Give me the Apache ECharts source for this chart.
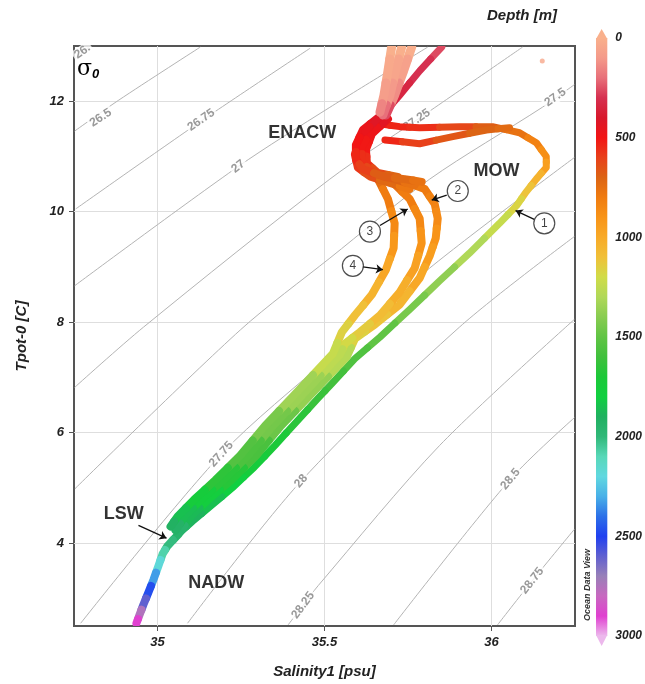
<!DOCTYPE html>
<html>
<head>
<meta charset="utf-8">
<script src="https://cdn.jsdelivr.net/npm/echarts@6/dist/echarts.min.js"></script>
<style>
  html, body { margin: 0; padding: 0; background: #fff; }
  #chart { width: 645px; height: 684px; }
</style>
</head>
<body>
<div id="chart"></div>
<script>
  /* axis ticks */
  var salinityTicks = [35, 35.5, 36];
  var tempTicks = [4, 6, 8, 10, 12];

  /* depth colour scale 0..3000 m, one colour every 100 m */
  var depthColors = ['#f9b08c', '#f49a8a', '#e8707a', '#d63050', '#d8182c', '#f21414', '#e8401a',
    '#dc6414', '#f07c10', '#f89418', '#f8aa28', '#f0c038', '#d0dc48', '#b0d858', '#88cc50',
    '#60c444', '#40c03c', '#1cc838', '#10d040', '#20b060', '#30b878', '#58d8b8', '#60d8e0',
    '#48b0e8', '#2c70e8', '#2040f0', '#6060d0', '#9880b8', '#c868c0', '#e040d0', '#ecb8ec'];

  /* isopycnals sigma-0, [salinity, temperature] */
  var sigma2625 = [[34.752, 12.77], [34.794, 12.98]];
  var sigma265 = [[34.752, 11.46], [34.884, 12.02], [35.128, 12.98]];
  var sigma2675 = [[34.755, 10.05], [35.128, 11.63], [35.457, 12.96]];
  var sigma27 = [[34.752, 8.66], [35.242, 10.82], [35.516, 11.89], [35.809, 12.98]];
  var sigma2725 = [[34.752, 6.82], [34.958, 7.91], [35.516, 10.59], [35.776, 11.66], [36.093, 12.98]];
  var sigma275 = [[34.752, 4.98], [35.248, 7.86], [35.516, 9.16], [35.815, 10.59], [36.152, 11.89], [36.248, 12.30]];
  var sigma2775 = [[34.770, 2.55], [35.191, 5.61], [35.516, 7.375], [35.815, 8.98], [36.248, 10.98]];
  var sigma28 = [[35.090, 2.55], [35.430, 5.125], [35.904, 7.91], [36.248, 9.55]];
  var sigma2825 = [[35.391, 2.52], [35.436, 2.875], [35.481, 3.23], [35.845, 5.77], [36.248, 8.05]];
  var sigma285 = [[35.707, 2.52], [36.057, 5.16], [36.248, 6.27]];
  var sigma2875 = [[36.018, 2.52], [36.122, 3.32], [36.248, 4.25]];
  var isopycnals = [sigma2625, sigma265, sigma2675, sigma27, sigma2725, sigma275,
    sigma2775, sigma28, sigma2825, sigma285, sigma2875];

  var contourText = ['26.', '26.5', '26.75', '27', '27.25', '27.5', '27.75', '28', '28.25', '28.5', '28.75'];
  var contourLabelPos = [[34.775, 12.90], [34.830, 11.70], [35.131, 11.66], [35.242, 10.82], [35.776, 11.66],
    [36.191, 12.07], [35.191, 5.61], [35.430, 5.125], [35.436, 2.875], [36.057, 5.16], [36.122, 3.32]];
  var contourAngle = [35, 33, 35, 38, 35, 35, 48, 50, 53, 50, 52];

  /* CTD profiles, [salinity, temperature, depth] */
  var surfA = [[35.701, 12.98, 0], [35.690, 12.55, 30], [35.678, 12.11, 80], [35.666, 11.80, 150]];
  var surfB = [[35.731, 12.98, 0], [35.713, 12.55, 50], [35.696, 12.11, 100], [35.675, 11.75, 200]];
  var surfC = [[35.761, 12.98, 10], [35.737, 12.55, 70], [35.710, 12.11, 130], [35.684, 11.75, 260]];
  var thermoLine = [[35.851, 12.98, 260], [35.785, 12.55, 300], [35.725, 12.11, 340], [35.681, 11.80, 380],
    [35.651, 11.63, 430], [35.621, 11.45, 470]];
  var enacw1 = [[35.660, 11.70, 430], [35.615, 11.48, 470], [35.594, 11.21, 500], [35.594, 10.95, 540],
    [35.615, 10.77, 600], [35.681, 10.63, 680], [35.740, 10.59, 720], [35.791, 10.54, 760]];
  var enacw2 = [[35.678, 11.63, 440], [35.636, 11.43, 480], [35.612, 11.18, 510], [35.612, 10.91, 560],
    [35.642, 10.71, 620], [35.710, 10.59, 700], [35.770, 10.48, 760]];
  var enacw3 = [[35.642, 11.52, 470], [35.606, 11.30, 500], [35.591, 11.04, 530], [35.600, 10.80, 580],
    [35.636, 10.64, 640], [35.696, 10.52, 720], [35.755, 10.41, 780]];
  var enacw4 = [[35.690, 11.68, 450], [35.642, 11.41, 480], [35.624, 11.125, 510], [35.627, 10.875, 560],
    [35.660, 10.70, 630], [35.719, 10.63, 700]];
  var mowLower = [[35.681, 11.30, 540], [35.785, 11.23, 600], [35.884, 11.36, 660], [35.985, 11.48, 700],
    [36.054, 11.52, 730]];
  var profile1 = [[35.666, 11.59, 520], [35.725, 11.54, 540], [35.785, 11.52, 560], [35.904, 11.54, 620],
    [36.003, 11.54, 680], [36.084, 11.43, 760], [36.134, 11.25, 820], [36.164, 11.00, 880],
    [36.164, 10.80, 950], [36.134, 10.59, 1040], [36.104, 10.36, 1110], [36.075, 10.11, 1170],
    [36.024, 9.79, 1230], [35.934, 9.25, 1300], [35.845, 8.75, 1380], [35.755, 8.23, 1440],
    [35.666, 7.73, 1500], [35.591, 7.34, 1550], [35.522, 6.89, 1590], [35.481, 6.625, 1620],
    [35.418, 6.21, 1660], [35.352, 5.77, 1710], [35.290, 5.375, 1750], [35.224, 5.00, 1800],
    [35.161, 4.68, 1850], [35.104, 4.39, 1890], [35.069, 4.20, 1940]];
  var profile2 = [[35.740, 10.55, 740], [35.800, 10.41, 790], [35.830, 10.14, 830], [35.839, 9.875, 860],
    [35.833, 9.52, 900], [35.815, 9.20, 940], [35.785, 8.80, 990], [35.725, 8.32, 1050],
    [35.651, 7.96, 1110], [35.591, 7.70, 1160], [35.567, 7.375, 1280], [35.454, 6.66, 1370],
    [35.370, 6.125, 1470], [35.296, 5.59, 1570], [35.221, 5.14, 1670], [35.152, 4.79, 1770],
    [35.099, 4.48, 1870], [35.063, 4.16, 1950], [35.030, 3.95, 2010], [35.015, 3.80, 2080],
    [35.003, 3.59, 2180], [34.988, 3.34, 2330], [34.973, 3.11, 2470], [34.958, 2.89, 2600],
    [34.946, 2.70, 2750], [34.937, 2.55, 2900]];
  var profile3 = [[35.710, 10.50, 760], [35.755, 10.23, 800], [35.785, 9.875, 850], [35.791, 9.43, 900],
    [35.770, 8.98, 960], [35.725, 8.54, 1020], [35.666, 8.125, 1080], [35.606, 7.82, 1140],
    [35.561, 7.61, 1190], [35.546, 7.41, 1260], [35.430, 6.66, 1350], [35.346, 6.125, 1450],
    [35.272, 5.59, 1560], [35.197, 5.14, 1660], [35.131, 4.79, 1760], [35.081, 4.48, 1860],
    [35.054, 4.23, 1930]];
  var profile4 = [[35.660, 10.59, 740], [35.690, 10.23, 800], [35.710, 9.79, 860], [35.707, 9.34, 920],
    [35.684, 8.95, 980], [35.642, 8.50, 1040], [35.591, 8.125, 1100], [35.552, 7.82, 1160],
    [35.525, 7.43, 1230], [35.406, 6.66, 1340], [35.322, 6.125, 1440], [35.248, 5.59, 1540],
    [35.173, 5.14, 1650], [35.110, 4.79, 1750], [35.060, 4.48, 1850], [35.039, 4.30, 1910]];
  var strayPoint = [[36.152, 12.73, 40]];

  /* annotations */
  var waterMassNames = ['ENACW', 'MOW', 'LSW', 'NADW'];
  var waterMassPos = [[35.433, 11.43], [36.015, 10.73], [34.899, 4.52], [35.176, 3.27]];
  var markerNums = ['1', '2', '3', '4'];
  var markerPos = [[36.158, 9.79], [35.899, 10.375], [35.636, 9.64], [35.585, 9.02]];
  var arrowLines = [
    [[36.128, 9.86], [36.072, 10.02]],
    [[35.866, 10.30], [35.821, 10.21]],
    [[35.666, 9.75], [35.749, 10.05]],
    [[35.615, 9.00], [35.675, 8.95]],
    [[34.943, 4.32], [35.027, 4.09]]
  ];

  var FONT = 'Liberation Sans, Arial, sans-serif';
  var chart = echarts.init(document.getElementById('chart'));

  /* thick coloured path, each point painted half way to its neighbours */
  function profileSeries(data, width, z) {
    return {
      type: 'custom',
      xAxisIndex: 0,
      yAxisIndex: 0,
      clip: true,
      silent: true,
      z: z,
      encode: { x: 0, y: 1 },
      data: data,
      renderItem: function (params, api) {
        var i = params.dataIndexInside, n = params.dataInsideLength;
        var p = api.coord([api.value(0), api.value(1)]);
        var prev = i > 0 ? api.coord([api.value(0, i - 1), api.value(1, i - 1)]) : p;
        var next = i < n - 1 ? api.coord([api.value(0, i + 1), api.value(1, i + 1)]) : p;
        var a = [(prev[0] + p[0]) / 2, (prev[1] + p[1]) / 2];
        var b = [(next[0] + p[0]) / 2, (next[1] + p[1]) / 2];
        return {
          type: 'polyline',
          shape: { points: [a, p, b] },
          style: { stroke: api.visual('color'), lineWidth: width, fill: null, lineCap: 'round', lineJoin: 'round' }
        };
      }
    };
  }

  var series = [];

  isopycnals.forEach(function (pts) {
    series.push({
      type: 'line', xAxisIndex: 0, yAxisIndex: 0, data: pts, smooth: 0.3, showSymbol: false,
      silent: true, z: 1, lineStyle: { color: '#b4b4b4', width: 1 }
    });
  });

  series.push({
    type: 'scatter', xAxisIndex: 0, yAxisIndex: 0, z: 2, silent: true, symbolSize: 0,
    data: contourLabelPos.map(function (p, k) {
      return { value: p, label: { formatter: contourText[k], rotate: contourAngle[k] } };
    }),
    label: {
      show: true, position: 'inside', color: '#808080', fontSize: 12, fontWeight: 'bold',
      fontFamily: FONT, backgroundColor: '#fff', padding: [0, 2]
    }
  });

  var profileIdx = [];
  [[profile1, 7], [profile2, 8], [profile3, 8], [profile4, 8], [mowLower, 7],
   [enacw4, 8], [enacw3, 8], [enacw2, 8], [enacw1, 8], [thermoLine, 7], [surfC, 9], [surfB, 9], [surfA, 9]]
    .forEach(function (d) {
      profileIdx.push(series.length);
      series.push(profileSeries(d[0], d[1], 3));
    });

  profileIdx.push(series.length);
  series.push({
    type: 'scatter', xAxisIndex: 0, yAxisIndex: 0, z: 3, silent: true, symbolSize: 5,
    encode: { x: 0, y: 1 }, data: strayPoint
  });

  // colour bar
  series.push({
    type: 'custom', xAxisIndex: 1, yAxisIndex: 1, silent: true, data: [[0, 0]],
    encode: { x: 0, y: 1 },
    renderItem: function (params, api) {
      var top = api.coord([0, 0]);
      var bot = api.coord([1, 3000]);
      var stops = depthColors.map(function (c, k) {
        return { offset: k / (depthColors.length - 1), color: c };
      });
      var mid = (top[0] + bot[0]) / 2;
      return {
        type: 'group',
        children: [
          { type: 'rect', shape: { x: top[0], y: top[1], width: bot[0] - top[0], height: bot[1] - top[1] },
            style: { fill: new echarts.graphic.LinearGradient(0, 0, 0, 1, stops) } },
          { type: 'polygon', shape: { points: [[top[0], top[1] + 1], [bot[0], top[1] + 1], [mid, top[1] - 9]] },
            style: { fill: depthColors[0] } },
          { type: 'polygon', shape: { points: [[top[0], bot[1] - 1], [bot[0], bot[1] - 1], [mid, bot[1] + 10]] },
            style: { fill: depthColors[depthColors.length - 1] } }
        ]
      };
    }
  });

  series.push({
    type: 'scatter', xAxisIndex: 0, yAxisIndex: 0, z: 6, silent: true, symbolSize: 0,
    data: waterMassPos.map(function (p, k) { return { value: p, name: waterMassNames[k] }; }),
    label: {
      show: true, position: 'inside', formatter: '{b}', color: '#000', fontSize: 18,
      fontWeight: 'bold', fontFamily: FONT
    }
  });

  series.push({
    type: 'lines', coordinateSystem: 'cartesian2d', xAxisIndex: 0, yAxisIndex: 0, z: 6, silent: true,
    symbol: ['none', 'arrow'], symbolSize: [0, 7],
    lineStyle: { color: '#111', width: 1.3, opacity: 1 },
    data: arrowLines.map(function (c) { return { coords: c }; })
  });

  series.push({
    type: 'scatter', xAxisIndex: 0, yAxisIndex: 0, z: 7, silent: true, symbol: 'circle', symbolSize: 21,
    itemStyle: { color: '#fff', borderColor: '#222', borderWidth: 1.2 },
    data: markerPos.map(function (p, k) { return { value: p, name: markerNums[k] }; }),
    label: { show: true, position: 'inside', formatter: '{b}', color: '#111', fontSize: 12, fontFamily: FONT }
  });

  var axisFont = { fontFamily: FONT, fontWeight: 'bold', fontStyle: 'italic', color: '#222' };

  chart.setOption({
    animation: false,
    backgroundColor: '#fff',
    grid: [
      { left: 74, right: 70, top: 46, bottom: 52, show: true, borderColor: '#555', borderWidth: 2,
        backgroundColor: 'transparent' },
      { left: 596, width: 12, top: 38, height: 598 }
    ],
    xAxis: [
      {
        type: 'value', gridIndex: 0, min: 34.75, max: 36.25,
        name: 'Salinity1 [psu]', nameLocation: 'middle', nameGap: 38,
        nameTextStyle: Object.assign({ fontSize: 15 }, axisFont),
        axisLine: { show: false },
        axisTick: { show: true, customValues: salinityTicks, length: 5, lineStyle: { color: '#555' } },
        axisLabel: Object.assign({ customValues: salinityTicks, fontSize: 13, margin: 10 }, axisFont),
        splitLine: { show: true, lineStyle: { color: '#dedede', width: 1 } }
      },
      { type: 'value', gridIndex: 1, min: 0, max: 1, show: false }
    ],
    yAxis: [
      {
        type: 'value', gridIndex: 0, min: 2.5, max: 13,
        name: 'Tpot-0 [C]', nameLocation: 'middle', nameGap: 45, nameRotate: 90,
        nameTextStyle: Object.assign({ fontSize: 15 }, axisFont),
        axisLine: { show: false },
        axisTick: { show: true, customValues: tempTicks, length: 5, lineStyle: { color: '#555' } },
        axisLabel: Object.assign({ customValues: tempTicks, fontSize: 13, margin: 10 }, axisFont),
        splitLine: { show: true, lineStyle: { color: '#dedede', width: 1 } }
      },
      {
        type: 'value', gridIndex: 1, min: 0, max: 3000, interval: 500, inverse: true, position: 'right',
        axisLine: { show: false }, axisTick: { show: false }, splitLine: { show: false },
        axisLabel: Object.assign({ fontSize: 12, margin: 8, formatter: function (v) { return String(v); } }, axisFont)
      }
    ],
    visualMap: {
      type: 'continuous', show: false, min: 0, max: 3000, dimension: 2,
      seriesIndex: profileIdx, inRange: { color: depthColors }
    },
    graphic: [
      { type: 'text', left: 487, top: 8, silent: true,
        style: { text: 'Depth [m]', font: 'italic bold 15px ' + FONT, fill: '#222' } },
      { type: 'text', left: 77, top: 58, silent: true,
        style: {
          text: '{s|σ}{o|0}',
          rich: {
            s: { fontSize: 22, fontFamily: 'DejaVu Serif, serif', color: '#888' },
            o: { fontSize: 13, fontWeight: 'bold', fontStyle: 'italic', fontFamily: FONT, color: '#888',
                 padding: [10, 0, 0, 0] }
          }
        } },
      { type: 'text', x: 588, y: 585, rotation: Math.PI / 2, silent: true,
        style: { text: 'Ocean Data View', font: 'italic bold 9px ' + FONT, fill: '#333',
                 textAlign: 'center', textVerticalAlign: 'middle' } }
    ],
    series: series
  });
</script>
</body>
</html>
